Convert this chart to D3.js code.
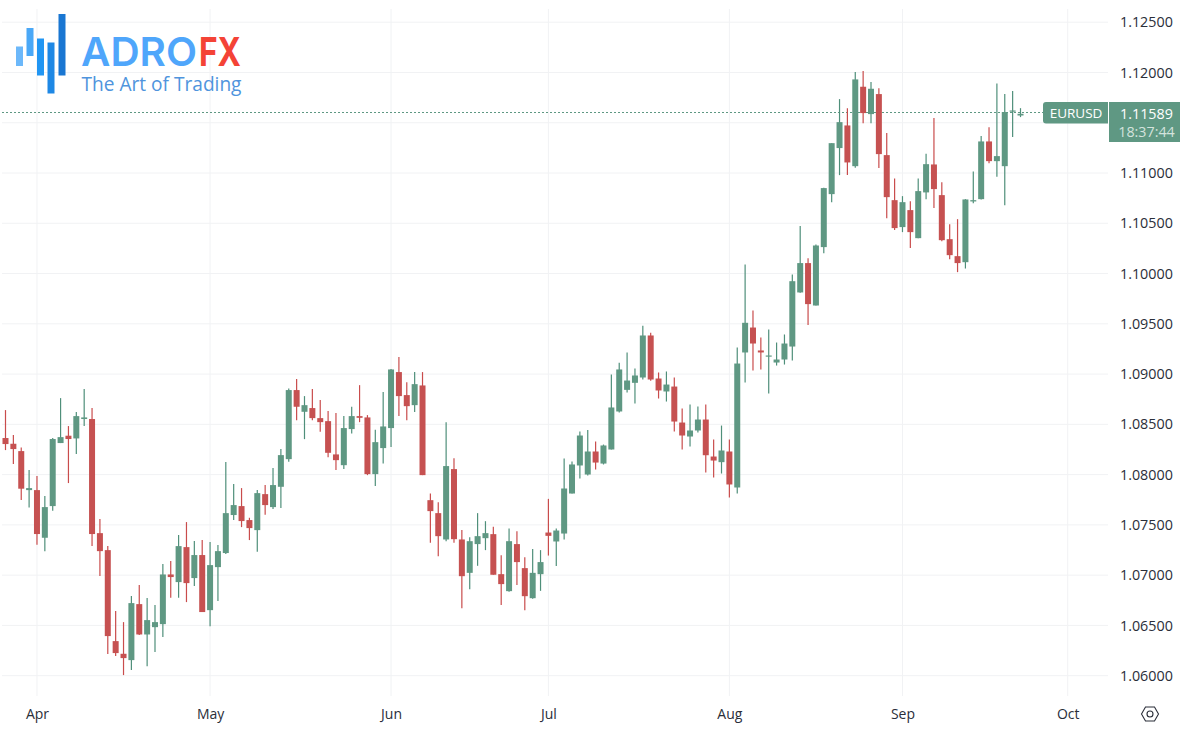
<!DOCTYPE html>
<html>
<head>
<meta charset="utf-8">
<script src="https://d3js.org/d3.v7.min.js"></script>
<style>
  html, body { margin: 0; padding: 0; background: #fff; }
  svg { display: block; }
  text { font-family: "Open Sans", "Noto Sans", sans-serif; }
</style>
</head>
<body>
<div id="chart"></div>
<script>
const opens = [
  1.08364,1.08307,1.08234,1.07846,1.07846,1.07372,1.07687,1.08314,1.08387,1.08360,
  1.08553,1.08553,1.07418,1.07249,1.06344,1.06218,1.06155,1.06712,1.06410,1.06483,
  1.06513,1.07007,1.06931,1.07279,1.06971,1.07200,1.06652,1.07080,1.07220,1.07598,
  1.07687,1.07548,1.07448,1.07806,1.07677,1.07879,1.08154,1.08841,1.08625,1.08662,
  1.08562,1.08532,1.08201,1.08094,1.08453,1.08582,1.08569,1.08005,1.08264,1.08463,
  1.09020,1.08791,1.08691,1.08887,1.07746,1.07617,1.07355,1.08055,1.07355,1.07023,
  1.07309,1.07368,1.07408,1.07010,1.06841,1.07309,1.07070,1.06771,1.07010,1.07424,
  1.07335,1.07414,1.07812,1.08091,1.08001,1.08230,1.08110,1.08250,1.08628,1.08843,
  1.08913,1.08966,1.09384,1.08956,1.08827,1.08876,1.08518,1.08379,1.08439,1.08548,
  1.08180,1.08124,1.08230,1.07872,1.09215,1.09463,1.09235,1.09175,1.09115,1.09145,
  1.09274,1.09812,1.10104,1.09682,1.10263,1.10790,1.11248,1.11473,1.11068,1.11858,
  1.11586,1.11785,1.11178,1.10730,1.10462,1.10631,1.10352,1.10807,1.11085,1.10780,
  1.10342,1.10173,1.10113,1.10717,1.10740,1.11314,1.11118,1.11068,1.11612,1.11572
];
const closes = [
  1.08304,1.08254,1.07860,1.07866,1.07409,1.07677,1.08354,1.08373,1.08354,1.08582,
  1.08569,1.07409,1.07239,1.06394,1.06225,1.06175,1.06722,1.06410,1.06553,1.06533,
  1.07007,1.06981,1.07289,1.06921,1.07200,1.06633,1.07100,1.07239,1.07617,1.07697,
  1.07538,1.07468,1.07816,1.07697,1.07896,1.08194,1.08841,1.08675,1.08691,1.08562,
  1.08522,1.08217,1.08144,1.08463,1.08582,1.08565,1.08005,1.08323,1.08479,1.09046,
  1.08781,1.08681,1.08900,1.07995,1.07637,1.07388,1.08085,1.07358,1.06990,1.07338,
  1.07388,1.07418,1.07004,1.06911,1.07338,1.07130,1.06791,1.07023,1.07130,1.07391,
  1.07444,1.07862,1.08101,1.08389,1.08230,1.08120,1.08290,1.08668,1.09046,1.08936,
  1.08986,1.09384,1.08946,1.08837,1.08896,1.08528,1.08389,1.08439,1.08548,1.08193,
  1.08140,1.08240,1.07902,1.09105,1.09510,1.09304,1.09215,1.09185,1.09145,1.09304,
  1.09924,1.10104,1.09696,1.10279,1.10850,1.11297,1.11506,1.11105,1.11931,1.11596,
  1.11838,1.11188,1.10760,1.10452,1.10710,1.10412,1.10820,1.11088,1.10840,1.10332,
  1.10183,1.10104,1.10737,1.10730,1.11314,1.11118,1.11168,1.11606,1.11622,1.11589
];
const highs = [
  1.08642,1.08393,1.08271,1.08045,1.07986,1.07787,1.08364,1.08761,1.08483,1.08622,
  1.08851,1.08662,1.07558,1.07289,1.06643,1.06533,1.06792,1.06901,1.06772,1.06702,
  1.07110,1.07140,1.07399,1.07528,1.07339,1.07349,1.07329,1.07299,1.08125,1.07906,
  1.07866,1.07571,1.07846,1.07896,1.08065,1.08254,1.08857,1.08950,1.08781,1.08851,
  1.08741,1.08632,1.08612,1.08582,1.08675,1.08890,1.08592,1.08446,1.08821,1.09050,
  1.09169,1.08920,1.09020,1.09020,1.07813,1.07726,1.08522,1.08164,1.07448,1.07378,
  1.07617,1.07537,1.07481,1.07199,1.07464,1.07438,1.07179,1.07259,1.07249,1.07759,
  1.07464,1.08160,1.08130,1.08429,1.08445,1.08329,1.08299,1.08996,1.09112,1.09215,
  1.09056,1.09480,1.09410,1.09016,1.09026,1.08966,1.08658,1.08697,1.08678,1.08697,
  1.08349,1.08488,1.08349,1.09264,1.10090,1.09633,1.09364,1.09444,1.09314,1.09394,
  1.09991,1.10472,1.10153,1.10289,1.10853,1.11297,1.11735,1.11645,1.12004,1.12014,
  1.11904,1.11844,1.11397,1.10946,1.10770,1.10720,1.10946,1.11191,1.11546,1.10909,
  1.10491,1.10541,1.10740,1.11015,1.11367,1.11456,1.11891,1.11785,1.11815,1.11645
];
const lows = [
  1.08244,1.08105,1.07747,1.07674,1.07302,1.07239,1.07641,1.08314,1.07916,1.08204,
  1.08483,1.07289,1.06991,1.06215,1.06195,1.06006,1.06056,1.06404,1.06095,1.06235,
  1.06384,1.06775,1.06775,1.06732,1.06891,1.06633,1.06493,1.06742,1.07210,1.07548,
  1.07478,1.07349,1.07233,1.07601,1.07657,1.07667,1.08128,1.08542,1.08353,1.08542,
  1.08426,1.08174,1.08045,1.08055,1.08410,1.08522,1.07995,1.07886,1.08111,1.08274,
  1.08582,1.08542,1.08622,1.07995,1.07322,1.07189,1.07338,1.07322,1.06672,1.06861,
  1.07093,1.07249,1.07004,1.06702,1.06834,1.06901,1.06652,1.06765,1.06844,1.07195,
  1.07092,1.07354,1.07812,1.07961,1.07991,1.08051,1.08101,1.08250,1.08618,1.08817,
  1.08707,1.08946,1.08933,1.08757,1.08727,1.08429,1.08250,1.08280,1.08419,1.08021,
  1.07971,1.08011,1.07772,1.07812,1.08916,1.09036,1.09046,1.08807,1.09085,1.09095,
  1.09135,1.09808,1.09487,1.09682,1.10203,1.10710,1.10979,1.10979,1.11052,1.11496,
  1.11496,1.11049,1.10551,1.10432,1.10412,1.10253,1.10352,1.10740,1.10651,1.10322,
  1.10143,1.10014,1.10050,1.10700,1.10737,1.11098,1.10962,1.10680,1.11357,1.11556
];
const priceTicks = [1.06,1.065,1.07,1.075,1.08,1.085,1.09,1.095,1.10,1.105,1.11,1.115,1.12,1.125];
const monthLabels = ['Apr','May','Jun','Jul','Aug','Sep','Oct'];
const monthBars = [4,26,49,69,92,114,135];
const symbol = 'EURUSD';
const lastPrice = 1.11589;
const countdown = '18:37:44';

const upColor = '#5f9883', downColor = '#c65151';
const upWick = '#4f8f7a', downWick = '#c94c4c';
const gridColor = '#f1f2f4', textColor = '#2a2e39';

const width = 1186, height = 744;
const paneLeft = 2, paneRight = 1108, paneTop = 9, paneBottom = 696;

const x = d3.scaleLinear().domain([0, 129]).range([5.5, 1020.5]);
const y = d3.scaleLinear().domain([1.06, 1.125]).range([675.7, 22.2]);

const svg = d3.select('#chart').append('svg').attr('width', width).attr('height', height);

// grid
svg.append('g').selectAll('line').data(priceTicks).join('line')
  .attr('x1', paneLeft).attr('x2', paneRight)
  .attr('y1', d => y(d)).attr('y2', d => y(d))
  .attr('stroke', gridColor).attr('stroke-width', 1);
svg.append('g').selectAll('line').data(monthBars).join('line')
  .attr('x1', d => x(d)).attr('x2', d => x(d))
  .attr('y1', paneTop).attr('y2', paneBottom)
  .attr('stroke', gridColor).attr('stroke-width', 1);

// logo
const logoBars = [
  { x: 16, y0: 46.5, y1: 66, color: '#6cb8fa' },
  { x: 26.5, y0: 28, y1: 56, color: '#4aa8f7' },
  { x: 37, y0: 38.5, y1: 75.5, color: '#2196f3' },
  { x: 47.5, y0: 42.5, y1: 93.5, color: '#1e88e5' },
  { x: 58.5, y0: 14, y1: 75.5, color: '#1976d2' }
];
const logo = svg.append('g');
logo.selectAll('rect').data(logoBars).join('rect')
  .attr('x', d => d.x).attr('y', d => d.y0).attr('width', 7).attr('height', d => d.y1 - d.y0)
  .attr('fill', d => d.color);
logo.append('text').attr('x', 81).attr('y', 65.5).attr('textLength', 116).attr('lengthAdjust', 'spacingAndGlyphs')
  .style('font-family', 'Inter').style('font-size', '40px').style('font-weight', 600).attr('fill', '#4fa6fb').text('ADRO');
logo.append('text').attr('x', 199).attr('y', 65.5).attr('textLength', 42).attr('lengthAdjust', 'spacingAndGlyphs')
  .style('font-family', 'Inter').style('font-size', '40px').style('font-weight', 700).attr('fill', '#f44336').text('FX');
logo.append('text').attr('x', 81.5).attr('y', 91).attr('textLength', 160).attr('lengthAdjust', 'spacingAndGlyphs')
  .style('font-size', '20px').attr('fill', '#4f94dd').text('The Art of Trading');

// last price line
const lastY = Math.floor(y(lastPrice)) - 0.5;
svg.append('line').attr('x1', paneLeft).attr('x2', 1043)
  .attr('y1', lastY).attr('y2', lastY)
  .attr('stroke', upColor).attr('stroke-dasharray', '2,2');

// candles
const candles = svg.append('g').selectAll('g').data(d3.range(opens.length)).join('g');
candles.append('line')
  .attr('x1', i => x(i)).attr('x2', i => x(i))
  .attr('y1', i => y(highs[i])).attr('y2', i => y(lows[i]))
  .attr('stroke', i => closes[i] >= opens[i] ? upWick : downWick).attr('stroke-width', 1.2);
candles.append('rect')
  .attr('x', i => x(i) - 3).attr('width', 6)
  .attr('y', i => y(Math.max(opens[i], closes[i])))
  .attr('height', i => Math.max(1.2, Math.abs(y(opens[i]) - y(closes[i]))))
  .attr('fill', i => closes[i] >= opens[i] ? upColor : downColor);

// axes
const yAxis = svg.append('g').attr('transform', 'translate(1120,0)')
  .call(d3.axisRight(y).tickValues(priceTicks).tickSize(0).tickPadding(0).tickFormat(d3.format('.5f')));
yAxis.select('.domain').remove();
yAxis.selectAll('text').style('font-size', '14.3px').style('font-family', '"Open Sans"').attr('fill', textColor);

const xAxis = svg.append('g').attr('transform', `translate(0,${paneBottom + 13})`)
  .call(d3.axisBottom(x).tickValues(monthBars).tickSize(0).tickPadding(0).tickFormat((d, i) => monthLabels[i]));
xAxis.select('.domain').remove();
xAxis.selectAll('text').style('font-size', '14px').style('font-family', '"Open Sans"').attr('fill', textColor);

// price labels
svg.append('path')
  .attr('d', 'M1108 102 H1046 Q1043 102 1043 105 V120.5 Q1043 123.5 1046 123.5 H1108 Z')
  .attr('fill', upColor);
svg.append('rect').attr('x', 1109).attr('y', 102).attr('width', 71).attr('height', 40).attr('fill', upColor);
svg.append('text').attr('x', 1076).attr('y', 118).attr('text-anchor', 'middle')
  .style('font-size', '13.5px').attr('fill', '#fff').text(symbol);
svg.append('text').attr('x', 1146.5).attr('y', 118.5).attr('text-anchor', 'middle')
  .style('font-size', '14.3px').attr('fill', '#fff').text(d3.format('.5f')(lastPrice));
svg.append('text').attr('x', 1146.5).attr('y', 136.5).attr('text-anchor', 'middle')
  .style('font-size', '14.3px').attr('fill', '#d4e3dd').text(countdown);

// settings icon
const icon = svg.append('g').attr('transform', 'translate(1150,714)').attr('fill', 'none').attr('stroke', textColor).attr('stroke-width', 1.1);
icon.append('path').attr('d', 'M-8.5 0 L-4.5 -7 H4.5 L8.5 0 L4.5 7 H-4.5 Z');
icon.append('circle').attr('r', 3);
</script>
</body>
</html>
